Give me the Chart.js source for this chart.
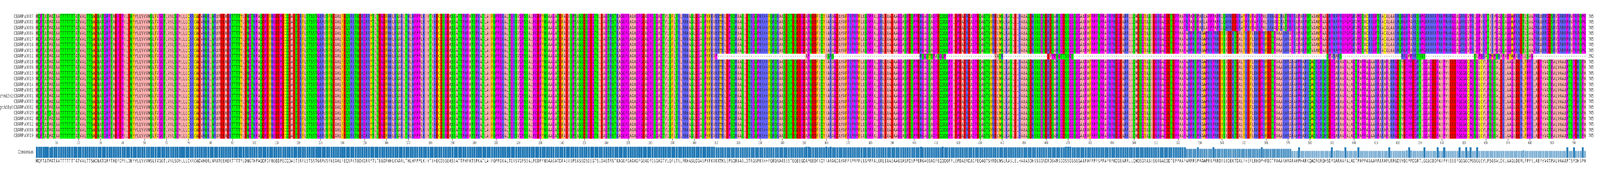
<!DOCTYPE html>
<html><head><meta charset="utf-8">
<script src="https://cdn.jsdelivr.net/npm/chart.js@4/dist/chart.umd.min.js"></script>
<style>
html,body{margin:0;padding:0;background:#fff;overflow:hidden}
#wrap{position:absolute;left:0;top:0;width:7335px;height:452px;transform-origin:0 0}
canvas{position:absolute;left:0}
#c1{top:0}
#c2{top:370px}
</style></head><body>
<div id="wrap">
<canvas id="c1" width="7335" height="372" style="width:7335px;height:372px"></canvas>
<canvas id="c2" width="7335" height="82" style="width:7335px;height:82px"></canvas>
</div>
<script>
// ---------- DATA ----------
const seqNames = ["CBARP:a0007","CBARP:a0005","CBARP:a0009","CBARP:a0004","CBARP:a0017","CBARP:a0016","CBARP:a0015","CBARP:a0011","CBARP:a0018","CBARP:a0006","CBARP:a0013","CBARP:a0010","CBARP:a0014","CBARP:a0001","chm13v2:CBARP:a0001","CBARP:a0003","grch38p0:CBARP:a0002","CBARP:a0020","CBARP:a0002","CBARP:a0012","CBARP:a0008","CBARP:a0019"];
const seqLengths = [705,705,705,705,705,705,705,392,705,705,705,705,705,705,705,705,705,705,705,705,705,705];

const consChunk1 = "MQPTATMATAATTTTTTTATVALTTSWDNATGRPTAEPDPILDNYVLLVVVMSLFVGGTLVVLSGVLLLCKRCWDVHQRLNRAMEEAEKTTTTYLDNGTHPAQDPDFRGEDPECQDAET";
const consChunk2 = "ERFLSTSSTGRRVSFNEAALFEQSRKTQDKGRRYTLTEGDFHHLKNARLTHLHPPPLKIVTIHECDSGEASSATTPHPATSPKATLAIFQPPGKALTGRSVGPSSALPGDPYNSAA";
const consChunk3 = "GATDFAEISPSASSDSGEGTSLDAGTRSTKAGGPGAAAGPGEAGPGSGAGTVLQFLTRLRRHASLDGASPYFKVKKWKLEPSQRAASLDTRGSPKRHHFQRQRAASESTEQEEGDAPQED";
const consChunk4 = "FIQYIARAGDAVAFPRPRPFLASPPPALGRLEAAEAAGGASPDSPPERGAGSAGPEQQQQPPLEPDAERDAGPEQAQTSYRDLWSLRASLELHAAASDHSSSGNDRDSVRSGDSSGGS";
const consChunk5 = "GGAAPAFPPPSPPAPRPKDGEARRLLQMDSGYASIEGRGAGDDTEPPAAPARPRSPRAWPRRPRRDYSIDEKTDALFHEFLRHDPHFDDTPAAARHRARAHPHARKQWQRGRQHSDPG";
const consChunk6 = "ARAAPALAGTPAPPAGAARPARAPLRRGDSVDGPPDGRTLGGAGDDPAIPVIEEEPGGGGCPGSGLCVLPSGSVLDKLAAGLDERLFPPRLAEPVVATPALVAAAPTSPDHSPA";

const altTailA = "PRPAPQPARLAPPPAPRLQHRREDGRAYPRYPAPRPALRRHAGCRATPRPRAPARPQTVAAWPAADRPRRPRGPGPGRVPGTACRRGPTRACALAARRQRGRPARR";
const altTailB = "SHPGRRRRRPRHPRHRGGAGRRGVPRLGPVRPTIRVGAGQAGGWPRRETL";
const altTailC = "SAAPRRARRGDSRVGRRRPHVPRPQPG";
const altStartRows1to3 = 523;
const altStartRows4to7 = 572;

const a0011Segments = [[1,"PREFIX309"],[310,"P"],[351,"AP"],[360,"ISRS"],[403,"RSGSWSPASGQP"],[437,"VATR"],[461,"EVPPSGTTSSGS"],[588,"QPVRARS"],[622,"RRGMPRRTSSS"],[655,"TLPGRATPWPSRAPAPFWPARPLLSAG"]];
const a0020Diff = [7,"T"];

// ---------- BUILD SEQUENCES ----------
const NCOL = 705;
let cons = (consChunk1+consChunk2+consChunk3+consChunk4+consChunk5+consChunk6);
cons = cons.slice(0,NCOL).padEnd(NCOL,"-");
const altTail = altTailA+altTailB+altTailC;
function altRow(start){ return cons.slice(0,start-1) + altTail.slice(start-altStartRows1to3); }
function fragRow(){
  const a = Array(NCOL).fill("-");
  a0011Segments.forEach(([s,t])=>{
    if(t==="PREFIX309") t = cons.slice(0,309);
    for(let k=0;k<t.length;k++) a[s-1+k]=t[k];
  });
  return a.join("");
}
const rows = seqNames.map((n,r)=>{
  if(r<3) return altRow(altStartRows1to3);
  if(r<7) return altRow(altStartRows4to7);
  if(r===7) return fragRow();
  if(n==="CBARP:a0020"){ const a=cons.split(""); a[a0020Diff[0]-1]=a0020Diff[1]; return a.join(""); }
  return cons;
});
const colLabels = Array.from({length:NCOL},(_,i)=>String(i+1));

const consLetters=[], consFreq=[];
for(let i=0;i<NCOL;i++){
  const cnt={}; rows.forEach(s=>{const c=s[i]; if(c!=="-") cnt[c]=(cnt[c]||0)+1;});
  let best="-",bn=0; for(const k in cnt){ if(cnt[k]>bn){bn=cnt[k];best=k;} }
  consLetters.push(best); consFreq.push(bn/rows.length);
}

// ---------- STYLE ----------
const zappo = {I:"#ffafaf",L:"#ffafaf",V:"#ffafaf",A:"#ffafaf",M:"#ffafaf",
  F:"#ffc800",W:"#ffc800",Y:"#ffc800",K:"#6464ff",R:"#6464ff",H:"#6464ff",
  D:"#ff0000",E:"#ff0000",S:"#00ff00",T:"#00ff00",N:"#00ff00",Q:"#00ff00",
  P:"#ff00ff",G:"#ff00ff",C:"#ffff00","-":"#ffffff"};
const FONT = "'DejaVu Sans', sans-serif";
function freqColor(f){
  const t=Math.min(1,(1-f)*1.2);
  const r=Math.round(31+224*t), g=Math.round(119+136*t), b=Math.round(180+75*t);
  return `rgb(${r},${g},${b})`;
}

// fit the 7335x452 drawing to the viewport
const sx = (window.innerWidth||7335)/7335, sy = (window.innerHeight||452)/452;
document.getElementById("wrap").style.transform = `scale(${sx},${sy})`;
const dpr = Math.max(1,(window.devicePixelRatio||1)*Math.max(sx,sy));

const letterPlugin = {
  id:"letters",
  afterDatasetsDraw(chart){
    const {ctx, scales:{x,y}, chartArea} = chart;
    ctx.save();
    ctx.font = "12px "+FONT; ctx.textAlign="center"; ctx.textBaseline="middle";
    ctx.fillStyle="#222";
    rows.forEach((s,r)=>{
      const yy = y.getPixelForValue(r+0.5);
      for(let i=0;i<NCOL;i++) ctx.fillText(s[i], x.getPixelForValue(i), yy+0.5);
    });
    ctx.font = "13px "+FONT; ctx.fillStyle="#333";
    seqNames.forEach((n,r)=>{
      const yy = y.getPixelForValue(r+0.5);
      ctx.textAlign="right"; ctx.fillText(n, chartArea.left-11, yy);
      ctx.textAlign="left"; ctx.fillText(String(seqLengths[r]), chartArea.right+11, yy);
    });
    ctx.restore();
  }
};
Chart.defaults.font.family = FONT;
new Chart(document.getElementById("c1"), {
  type:"bar",
  data:{ labels: colLabels,
    datasets: rows.map((s,r)=>({
      data: s.split("").map(()=>[r,r+1]),
      backgroundColor: s.split("").map(c=>zappo[c]||"#ffffff"),
      borderWidth:0, barPercentage:1, categoryPercentage:1, grouped:false, inflateAmount:0.6
    }))
  },
  options:{
    responsive:false, animation:false, devicePixelRatio:dpr,
    layout:{padding:{left:164,right:64,top:35,bottom:0}},
    plugins:{legend:{display:false},tooltip:{enabled:false}},
    scales:{
      y:{display:false,min:0,max:22,reverse:true},
      x:{ border:{display:false},
        grid:{drawOnChartArea:false,offset:false,tickLength:5,
          color:c=>((c.index+1)%10===0?"#333":"rgba(0,0,0,0)")},
        ticks:{autoSkip:false,maxRotation:0,padding:1,color:"#333",font:{size:9},
          callback:(v,i)=>((i+1)%10===0?String(i+1):"")}
      }
    }
  },
  plugins:[letterPlugin]
});

const consPlugin = {
  id:"cons",
  afterDatasetsDraw(chart){
    const {ctx, scales:{x}, chartArea} = chart;
    ctx.save();
    ctx.font="12px "+FONT; ctx.textAlign="center"; ctx.textBaseline="middle"; ctx.fillStyle="#222";
    for(let i=0;i<NCOL;i++) ctx.fillText(consLetters[i], x.getPixelForValue(i), chartArea.bottom+9);
    ctx.font="13px "+FONT; ctx.textAlign="right"; ctx.fillStyle="#333";
    ctx.fillText("Consensus", chartArea.left-11, (chartArea.top+chartArea.bottom)/2);
    ctx.restore();
  }
};
new Chart(document.getElementById("c2"), {
  type:"bar",
  data:{labels:colLabels, datasets:[{data:consFreq,
    backgroundColor:consFreq.map(freqColor), borderColor:"#dbe7f3",
    borderWidth:{top:1,left:0,right:0,bottom:0}, barPercentage:0.92, categoryPercentage:1}]},
  options:{
    responsive:false, animation:false, devicePixelRatio:dpr,
    layout:{padding:{left:164,right:64,top:4,bottom:49}},
    plugins:{legend:{display:false},tooltip:{enabled:false}},
    scales:{x:{display:false},y:{display:false,min:0,max:1}}
  },
  plugins:[consPlugin]
});
</script>
</body></html>
